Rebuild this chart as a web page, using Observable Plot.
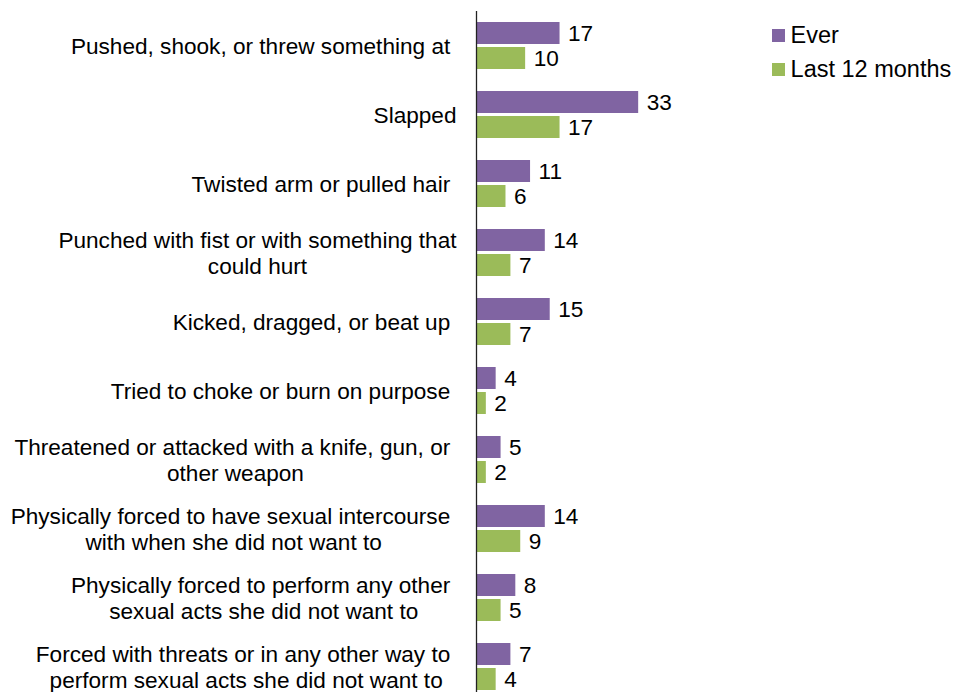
<!DOCTYPE html>
<html><head><meta charset="utf-8">
<script src="https://cdn.jsdelivr.net/npm/d3@7"></script>
<script src="https://cdn.jsdelivr.net/npm/@observablehq/plot@0.6"></script>
<style>
body{margin:0;background:#fff;}
#wrap{position:relative;width:955px;height:692px;font-family:"Liberation Sans",Arial,sans-serif;}
.legend{position:absolute;left:772px;top:18px;font-size:23.5px;color:#000;}
.legend div{display:flex;align-items:center;height:34.5px;white-space:nowrap;}
.legend .sw{width:12.6px;height:12.6px;margin-right:6px;display:inline-block;}
</style></head><body><div id="wrap"></div>
<script>
const NB = "\u00a0";
const categories = [
  "Pushed, shook, or threw something at" + NB,
  "Slapped",
  "Twisted arm or pulled hair" + NB,
  "Punched with fist or with something that\ncould hurt",
  "Kicked, dragged, or beat up" + NB,
  "Tried to choke or burn on purpose" + NB,
  "Threatened or attacked with a knife, gun, or" + NB + "\nother weapon",
  "Physically forced to have sexual intercourse" + NB + "\nwith when she did not want to",
  "Physically forced to perform any other" + NB + "\nsexual acts she did not want to",
  "Forced with threats or in any other way to" + NB + "\nperform sexual acts she did not want to"
];
const series = ["Ever", "Last 12 months"];
const ever = [17, 33, 11, 14, 15, 4, 5, 14, 8, 7];
const last12 = [10, 17, 6, 7, 7, 2, 2, 9, 5, 4];
const colors = ["#8064A2", "#9BBB59"];

const FONT = "'Liberation Sans', Arial, sans-serif";
const FS = 22.6;
const rows = categories.flatMap((c, i) => [
  {cat: c, series: series[0], value: ever[i]},
  {cat: c, series: series[1], value: last12[i]}
]);

const ctx = document.createElement("canvas").getContext("2d");
ctx.font = FS + "px 'Liberation Sans', Arial, sans-serif";

const labelMarks = categories.map(c => {
  const w = Math.max(...c.split("\n").map(l => ctx.measureText(l).width));
  return Plot.text([c], {
    fy: d => d, text: d => d, frameAnchor: "left", textAnchor: "middle",
    dx: -(20 + w / 2), fontSize: FS, lineHeight: 1.15, fill: "#000"
  });
});

const chart = Plot.plot({
  width: 955, height: 692,
  marginLeft: 476, marginRight: 307, marginTop: 11, marginBottom: -9,
  style: {fontFamily: FONT, fontSize: FS + "px", background: "#fff", overflow: "hidden"},
  x: {domain: [0, 35], axis: null},
  y: {domain: series, axis: null, paddingInner: 0.12, paddingOuter: 0.44},
  fy: {domain: categories, axis: null, padding: 0},
  color: {domain: series, range: colors},
  marks: [
    Plot.barX(rows, {fy: "cat", y: "series", x: "value", fill: "series"}),
    Plot.ruleX([0], {stroke: "#222", strokeWidth: 1.3}),
    Plot.text(rows, {fy: "cat", y: "series", x: "value", text: d => String(d.value),
      textAnchor: "start", dx: 8, fontSize: FS, fill: "#000"}),
    ...labelMarks
  ]
});

const wrap = document.getElementById("wrap");
wrap.appendChild(chart);
const legend = document.createElement("div");
legend.className = "legend";
series.forEach((s, i) => {
  const row = document.createElement("div");
  const sw = document.createElement("span");
  sw.className = "sw";
  sw.style.background = colors[i];
  row.appendChild(sw);
  row.appendChild(document.createTextNode(s));
  legend.appendChild(row);
});
wrap.appendChild(legend);
</script>
</body></html>
